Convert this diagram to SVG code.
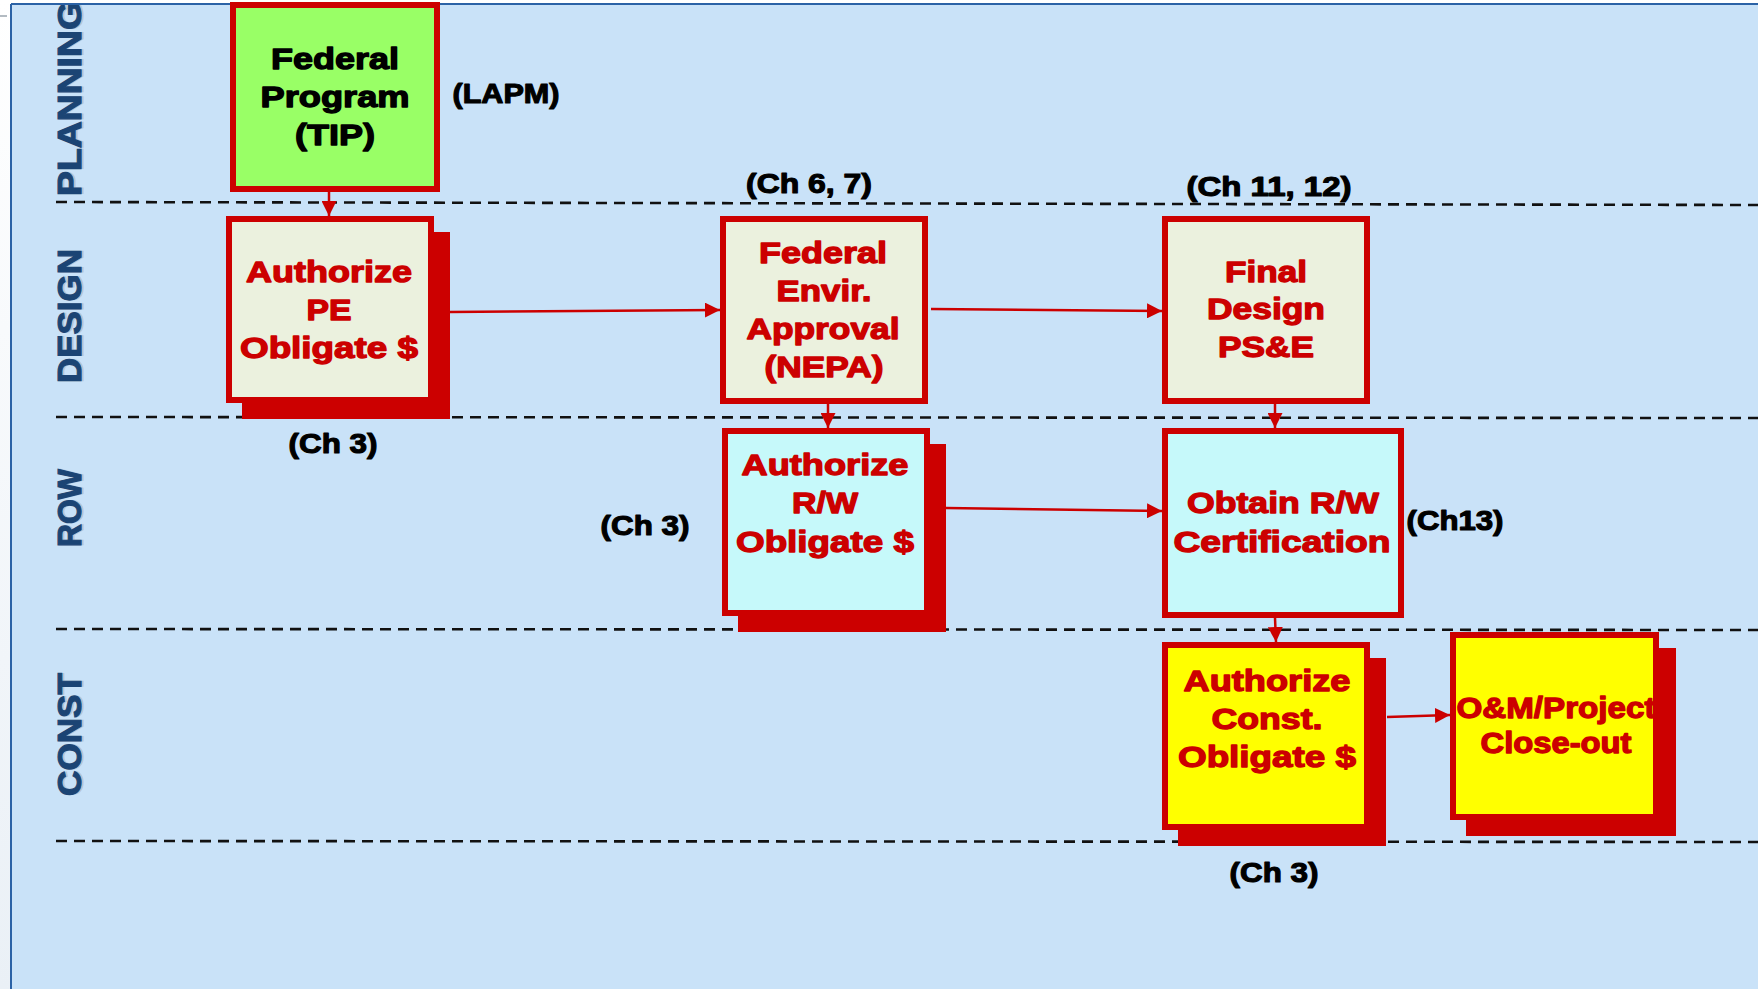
<svg xmlns="http://www.w3.org/2000/svg" width="1758" height="989" viewBox="0 0 1758 989">
<defs>
<linearGradient id="side" x1="0" y1="0" x2="0" y2="1"><stop offset="0" stop-color="#ffffff"/><stop offset="1" stop-color="#eaf0f6"/></linearGradient>
<clipPath id="bgclip"><rect x="12" y="5" width="1746" height="984"/></clipPath>
<marker id="arr" markerUnits="userSpaceOnUse" viewBox="0 0 15 15" markerWidth="15" markerHeight="15" refX="15" refY="7.5" orient="auto"><path d="M0,0 L15,7.5 L0,15 z" fill="#CC0000"/></marker>
</defs>
<style>
.lane{font-family:"Liberation Sans",Arial,sans-serif;font-weight:bold;font-size:33px;text-anchor:middle}
.lane .sh{fill:#b7c4d2;stroke:#b7c4d2;stroke-width:1}
.lane .fg{fill:#1B4474;stroke:#1B4474;stroke-width:1.1}
.dash{stroke:#111;stroke-width:2.6;stroke-dasharray:11 7;fill:none}
.box{stroke:#CC0000;stroke-width:6}
.shadow{fill:#CC0000}
.nt{font-family:"Liberation Sans",Arial,sans-serif;font-weight:bold;font-size:30px;fill:#CC0000;stroke:#CC0000;stroke-width:1.3;text-anchor:middle;stroke-linejoin:round}
.bt{font-family:"Liberation Sans",Arial,sans-serif;font-weight:bold;font-size:30px;fill:#000;stroke:#000;stroke-width:1.3;text-anchor:middle;stroke-linejoin:round}
.lbl{font-family:"Liberation Sans",Arial,sans-serif;font-weight:bold;font-size:27px;fill:#000;stroke:#000;stroke-width:1.1;text-anchor:middle;stroke-linejoin:round}
.conn{stroke:#CC0000;stroke-width:2.5;fill:none;marker-end:url(#arr)}
</style>

<g id="background">
<rect x="0" y="0" width="1758" height="989" fill="url(#side)"/>
<line x1="0" y1="16" x2="7" y2="16" stroke="#9aa4ae" stroke-width="1.5"/>
<rect x="11" y="4" width="1747" height="985" fill="#C9E2F8"/>
<line x1="11" y1="4" x2="11" y2="989" stroke="#2B62A6" stroke-width="2"/>
<line x1="11" y1="4" x2="1758" y2="4" stroke="#2B62A6" stroke-width="2"/>
</g>

<g id="lanes" class="lane" clip-path="url(#bgclip)">
<g transform="translate(81,98.5) rotate(-90)"><text class="sh" x="0" y="2" textLength="195" lengthAdjust="spacingAndGlyphs">PLANNING</text><text class="fg" x="0" y="0" textLength="195" lengthAdjust="spacingAndGlyphs">PLANNING</text></g>
<g transform="translate(81,316) rotate(-90)"><text class="sh" x="0" y="2" textLength="134" lengthAdjust="spacingAndGlyphs">DESIGN</text><text class="fg" x="0" y="0" textLength="134" lengthAdjust="spacingAndGlyphs">DESIGN</text></g>
<g transform="translate(81,508) rotate(-90)"><text class="sh" x="0" y="2" textLength="78" lengthAdjust="spacingAndGlyphs">ROW</text><text class="fg" x="0" y="0" textLength="78" lengthAdjust="spacingAndGlyphs">ROW</text></g>
<g transform="translate(81,734.5) rotate(-90)"><text class="sh" x="0" y="2" textLength="123" lengthAdjust="spacingAndGlyphs">CONST</text><text class="fg" x="0" y="0" textLength="123" lengthAdjust="spacingAndGlyphs">CONST</text></g>
</g>

<g id="lane-dividers">
<line class="dash" x1="56" y1="202" x2="1758" y2="205"/>
<line class="dash" x1="56" y1="417" x2="1758" y2="418"/>
<line class="dash" x1="56" y1="629" x2="1758" y2="630"/>
<line class="dash" x1="56" y1="841" x2="1758" y2="842"/>
</g>

<g id="connectors">
<line class="conn" x1="329" y1="192" x2="329" y2="216"/>
<line class="conn" x1="450" y1="312" x2="720" y2="310"/>
<line class="conn" x1="931" y1="309" x2="1162" y2="311"/>
<line class="conn" x1="828" y1="404" x2="828" y2="428"/>
<line class="conn" x1="1275" y1="404" x2="1275" y2="428"/>
<line class="conn" x1="946" y1="508" x2="1162" y2="511"/>
<line class="conn" x1="1275" y1="618" x2="1276" y2="642"/>
<line class="conn" x1="1387" y1="717" x2="1450" y2="715"/>
</g>

<g id="node-federal-program">
<rect class="box" x="233" y="5" width="204" height="184" fill="#99FF66"/>
<text class="bt" x="335" y="69" textLength="128" lengthAdjust="spacingAndGlyphs">Federal</text>
<text class="bt" x="335" y="107" textLength="149" lengthAdjust="spacingAndGlyphs">Program</text>
<text class="bt" x="335" y="145" textLength="80" lengthAdjust="spacingAndGlyphs">(TIP)</text>
</g>

<g id="node-authorize-pe">
<rect class="shadow" x="242" y="232" width="208" height="187"/>
<rect class="box" x="229" y="219" width="202" height="181" fill="#EBF1DE"/>
<text class="nt" x="329" y="282" textLength="166" lengthAdjust="spacingAndGlyphs">Authorize</text>
<text class="nt" x="329" y="320" textLength="45" lengthAdjust="spacingAndGlyphs">PE</text>
<text class="nt" x="329" y="358" textLength="178" lengthAdjust="spacingAndGlyphs">Obligate $</text>
</g>

<g id="node-nepa">
<rect class="box" x="723" y="219" width="202" height="182" fill="#EBF1DE"/>
<text class="nt" x="823" y="263" textLength="128" lengthAdjust="spacingAndGlyphs">Federal</text>
<text class="nt" x="824" y="301" textLength="95" lengthAdjust="spacingAndGlyphs">Envir.</text>
<text class="nt" x="823" y="339" textLength="153" lengthAdjust="spacingAndGlyphs">Approval</text>
<text class="nt" x="824" y="377" textLength="119" lengthAdjust="spacingAndGlyphs">(NEPA)</text>
</g>

<g id="node-final-design">
<rect class="box" x="1165" y="219" width="202" height="182" fill="#EBF1DE"/>
<text class="nt" x="1266" y="282" textLength="82" lengthAdjust="spacingAndGlyphs">Final</text>
<text class="nt" x="1266" y="319" textLength="118" lengthAdjust="spacingAndGlyphs">Design</text>
<text class="nt" x="1266" y="357" textLength="96" lengthAdjust="spacingAndGlyphs">PS&amp;E</text>
</g>

<g id="node-authorize-rw">
<rect class="shadow" x="738" y="444" width="208" height="188"/>
<rect class="box" x="725" y="431" width="202" height="182" fill="#C6F9FA"/>
<text class="nt" x="825" y="475" textLength="167" lengthAdjust="spacingAndGlyphs">Authorize</text>
<text class="nt" x="825" y="513" textLength="66" lengthAdjust="spacingAndGlyphs">R/W</text>
<text class="nt" x="825" y="552" textLength="178" lengthAdjust="spacingAndGlyphs">Obligate $</text>
</g>

<g id="node-obtain-rw">
<rect class="box" x="1165" y="431" width="236" height="184" fill="#C6F9FA"/>
<text class="nt" x="1283" y="513" textLength="192" lengthAdjust="spacingAndGlyphs">Obtain R/W</text>
<text class="nt" x="1282" y="552" textLength="217" lengthAdjust="spacingAndGlyphs">Certification</text>
</g>

<g id="node-authorize-const">
<rect class="shadow" x="1178" y="658" width="208" height="188"/>
<rect class="box" x="1165" y="645" width="202" height="182" fill="#FFFF00"/>
<text class="nt" x="1267" y="691" textLength="167" lengthAdjust="spacingAndGlyphs">Authorize</text>
<text class="nt" x="1267" y="729" textLength="111" lengthAdjust="spacingAndGlyphs">Const.</text>
<text class="nt" x="1267" y="767" textLength="178" lengthAdjust="spacingAndGlyphs">Obligate $</text>
</g>

<g id="node-om-closeout">
<rect class="shadow" x="1466" y="648" width="210" height="188"/>
<rect class="box" x="1453" y="635" width="203" height="182" fill="#FFFF00"/>
<text class="nt" x="1556" y="718" font-size="28" textLength="199" lengthAdjust="spacingAndGlyphs">O&amp;M/Project</text>
<text class="nt" x="1556" y="753" font-size="28" textLength="151" lengthAdjust="spacingAndGlyphs">Close-out</text>
</g>

<g id="labels">
<text class="lbl" x="506" y="103" textLength="107" lengthAdjust="spacingAndGlyphs">(LAPM)</text>
<text class="lbl" x="809" y="193" textLength="126" lengthAdjust="spacingAndGlyphs">(Ch 6, 7)</text>
<text class="lbl" x="1269" y="196" textLength="165" lengthAdjust="spacingAndGlyphs">(Ch 11, 12)</text>
<text class="lbl" x="333" y="453" textLength="89" lengthAdjust="spacingAndGlyphs">(Ch 3)</text>
<text class="lbl" x="645" y="535" textLength="89" lengthAdjust="spacingAndGlyphs">(Ch 3)</text>
<text class="lbl" x="1455" y="530" textLength="97" lengthAdjust="spacingAndGlyphs">(Ch13)</text>
<text class="lbl" x="1274" y="882" textLength="89" lengthAdjust="spacingAndGlyphs">(Ch 3)</text>
</g>
</svg>
